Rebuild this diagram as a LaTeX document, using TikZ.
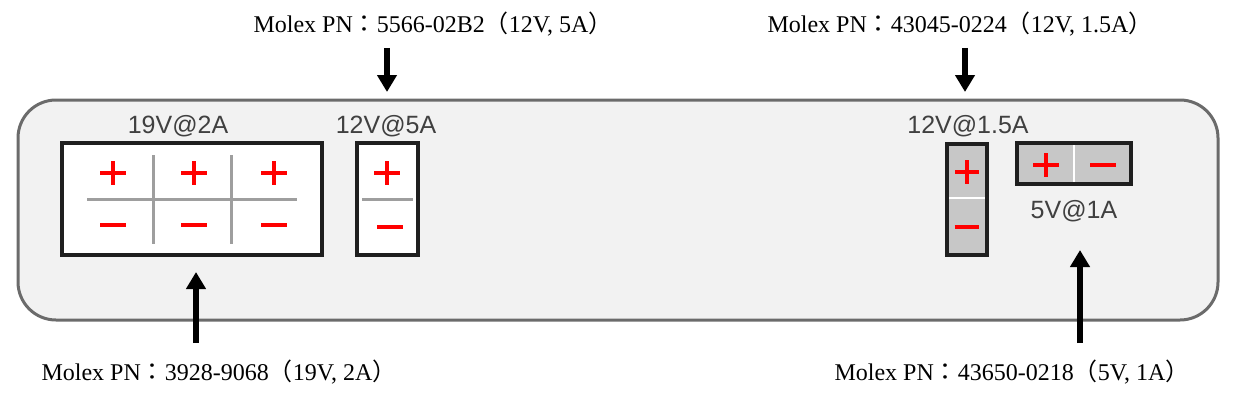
\documentclass[tikz,border=0pt]{standalone}
\usepackage{fontspec}
\setmainfont{Liberation Serif}
\setsansfont{Liberation Sans}
\newfontfamily\cjk{Noto Sans CJK TC}
\usetikzlibrary{arrows.meta}

% full-width punctuation
\newcommand{\fwcolon}{{\cjk ：}}
\newcommand{\fwlp}{{\cjk （}}
\newcommand{\fwrp}{{\cjk ）}}

\tikzset{
  panel/.style={draw=black!58, fill=black!5, line width=3pt, rounded corners=38pt},
  conbox/.style={draw=black!88, fill=white, line width=3.5pt},
  divider/.style={draw=black!38, line width=3pt},
  gap/.style={draw=white, line width=2.5pt},
  sign/.style={draw=red, line width=4pt},
  voltlabel/.style={font=\sffamily\fontsize{25}{28}\selectfont, text=black!75, inner sep=0pt, anchor=base},
  pnlabel/.style={font=\fontsize{24}{28}\selectfont, inner sep=0pt, anchor=base},
  pnarrow/.style={line width=6pt, -{Triangle[width=19pt,length=17pt]}},
  pics/plussign/.style={code={\draw[sign] (-13,0) -- (13,0) (0,-12) -- (0,12);}},
  pics/minussign/.style={code={\draw[sign] (-13,0) -- (13,0);}}
}

\begin{document}
\begin{tikzpicture}[x=1pt, y=-1pt]
\useasboundingbox (0,0) rectangle (1241,404);
% panel
\draw[panel] (18,100) rectangle (1218,320);
%% connector 19V@2A
\draw[conbox] (62,143) rectangle (322,255);
\draw[divider] (87,199) -- (297,199);
\draw[divider] (153,155) -- (153,244);
\draw[divider] (231,155) -- (231,244);
\foreach \x in {113,194,274} {
  \pic at (\x,173) {plussign};
  \pic at (\x,225) {minussign};
}
\node[voltlabel] (v19) at (178,133) {19V@2A};
%% connector 12V@5A
\draw[conbox] (357,143) rectangle (418,255);
\draw[divider] (362,199) -- (413,199);
\pic at (387,173) {plussign};
\pic at (390,227) {minussign};
\node[voltlabel] (v12a) at (386,133) {12V@5A};
%% connector 12V@1.5A
\draw[conbox, fill=black!22] (947,144) rectangle (987,255);
\draw[gap] (949,198) -- (985,198);
\pic[xscale=0.9] at (967,172) {plussign};
\pic[xscale=0.95] at (967,227) {minussign};
\node[voltlabel] (v12b) at (968,133) {12V@1.5A};
%% connector 5V@1A
\draw[conbox, fill=black!22] (1017,143) rectangle (1131,184);
\draw[gap] (1074,145) -- (1074,182);
\pic at (1046,165) {plussign};
\pic at (1103,165) {minussign};
\node[voltlabel] (v5) at (1074,218) {5V@1A};
%% part numbers
\node[pnlabel] (pn5566) at (433,33) {Molex PN\fwcolon5566-02B2\fwlp12V, 5A\fwrp};
\node[pnlabel] (pn43045) at (960,33) {Molex PN\fwcolon43045-0224\fwlp12V, 1.5A\fwrp};
\node[pnlabel] (pn3928) at (219,380) {Molex PN\fwcolon3928-9068\fwlp19V, 2A\fwrp};
\node[pnlabel] (pn43650) at (1012,380) {Molex PN\fwcolon43650-0218\fwlp5V, 1A\fwrp};
%% arrows
\coordinate (s5566) at (387,48);   \coordinate (e5566) at (387,92);
\coordinate (s43045) at (965,48);  \coordinate (e43045) at (965,92);
\coordinate (s3928) at (196,343);  \coordinate (e3928) at (196,272);
\coordinate (s43650) at (1080,343); \coordinate (e43650) at (1080,250);
\draw[pnarrow] (s5566) -- (e5566);
\draw[pnarrow] (s43045) -- (e43045);
\draw[pnarrow] (s3928) -- (e3928);
\draw[pnarrow] (s43650) -- (e43650);
\end{tikzpicture}
\end{document}
